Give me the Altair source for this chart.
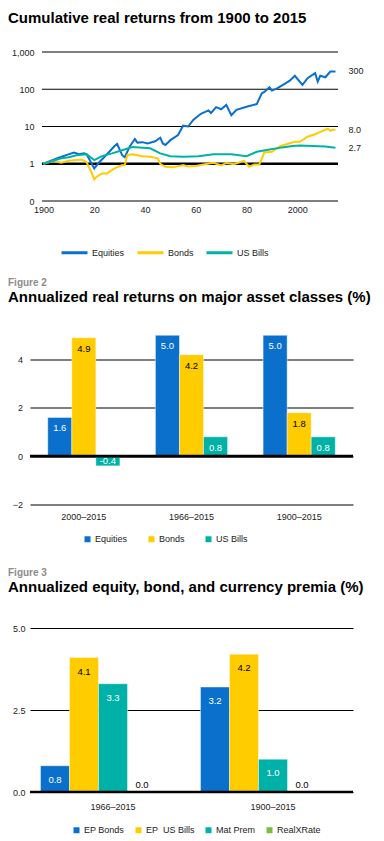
import altair as alt
import pandas as pd

FONT = "Liberation Sans"
BLUE = "#0B6FCC"
YELLOW = "#FFCC00"
TEAL = "#00B1A8"
GREEN = "#79BD42"

# ---------------- Figure 1: cumulative real returns (log scale) ----------------
eq_years = [1900, 1903, 1906, 1909, 1912, 1914, 1916, 1917, 1920, 1922, 1925, 1928, 1929,
            1931, 1932, 1934, 1936, 1937, 1939, 1941, 1944, 1946, 1947, 1948, 1950, 1953,
            1955, 1957, 1959, 1962, 1965, 1966, 1968, 1970, 1972, 1974, 1976, 1980, 1984,
            1986, 1987, 1989, 1990, 1992, 1995, 1997, 1999, 2002, 2004, 2007, 2008, 2009,
            2011, 2013, 2015]
eq_vals = [1.0, 1.2, 1.45, 1.7, 2.0, 1.8, 1.9, 1.8, 0.75, 1.1, 1.8, 3.0, 3.4,
           1.7, 1.5, 2.9, 4.6, 3.7, 3.8, 3.5, 4.0, 5.0, 3.5, 3.2, 4.3, 5.9,
           10.5, 10.0, 15.0, 22.0, 27.0, 23.0, 33.0, 29.0, 38.0, 20.0, 28.0, 34.0, 40.0,
           78.0, 85.0, 113.0, 92.0, 105.0, 140.0, 170.0, 230.0, 131.0, 198.0, 270.0, 160.0, 230.0,
           210.0, 300.0, 300.0]
bond_years = [1900, 1904, 1907, 1910, 1915, 1917, 1919, 1920, 1921, 1923, 1925, 1928, 1931,
              1932, 1933, 1935, 1939, 1942, 1945, 1946, 1948, 1951, 1955, 1957, 1960, 1963,
              1967, 1970, 1972, 1975, 1979, 1981, 1983, 1985, 1987, 1990, 1993, 1996, 1999,
              2001, 2004, 2007, 2009, 2012, 2013, 2014, 2015]
bond_vals = [1.0, 1.18, 1.06, 1.2, 1.3, 1.1, 0.57, 0.38, 0.45, 0.55, 0.55, 0.75, 0.92,
             0.9, 1.7, 1.8, 1.6, 1.55, 1.4, 1.0, 0.83, 0.8, 0.92, 0.85, 0.87, 0.95,
             1.06, 0.9, 1.05, 0.97, 1.2, 0.83, 0.95, 0.95, 2.0, 2.1, 2.9, 3.4, 3.9,
             3.9, 5.3, 6.2, 7.2, 8.7, 7.7, 8.3, 8.0]
bill_years = [1900, 1907, 1910, 1913, 1917, 1920, 1923, 1927, 1931, 1935, 1942, 1946, 1950,
              1955, 1961, 1967, 1974, 1980, 1984, 1989, 1994, 1998, 2001, 2006, 2011, 2015]
bill_vals = [1.0, 1.4, 1.5, 1.7, 1.8, 1.25, 1.6, 1.9, 2.3, 2.8, 2.6, 1.9, 1.6,
             1.55, 1.6, 1.8, 1.8, 1.6, 2.1, 2.4, 2.75, 3.0, 3.1, 3.0, 2.9, 2.7]
series1 = ["Equities", "Bonds", "US Bills"]
end_labels1 = ["300", "8.0", "2.7"]
x_ticks1 = [1900, 1910, 1920, 1930, 1940, 1950, 1960, 1970, 1980, 1990, 2000, 2010]
y_ticks1 = [0.1, 1, 10, 100, 1000]
x_domain1 = [1894.7, 2016]
grid_span1 = [1899.4, 2016]

# ---------------- Figure 2: annualized real returns ----------------
periods2 = ["2000–2015", "1966–2015", "1900–2015"]
series2 = ["Equities", "Bonds", "US Bills"]
equities2 = [1.6, 5.0, 5.0]
bonds2 = [4.9, 4.2, 1.8]
bills2 = [-0.4, 0.8, 0.8]

# ---------------- Figure 3: premia ----------------
periods3 = ["1966–2015", "1900–2015"]
series3 = ["EP Bonds", "EP\u00a0 US Bills", "Mat Prem", "RealXRate"]
slots3 = series3 + ["(none)"]
ep_bonds3 = [0.8, 3.2]
ep_bills3 = [4.1, 4.2]
mat_prem3 = [3.3, 1.0]
realx3 = [0.0, 0.0]

# ---------------- tables ----------------
rows1 = []
for name, ys, vs in [("Equities", eq_years, eq_vals), ("Bonds", bond_years, bond_vals),
                     ("US Bills", bill_years, bill_vals)]:
    for y, v in zip(ys, vs):
        rows1.append({"year": y, "value": v, "series": name})
df1 = pd.DataFrame(rows1)
df1_end = pd.DataFrame({
    "year": [eq_years[-1], bond_years[-1], bill_years[-1]],
    "value": [eq_vals[-1], bond_vals[-1], bill_vals[-1]],
    "label": end_labels1,
})
df1_grid = pd.DataFrame({"value": y_ticks1, "x0": grid_span1[0], "x1": grid_span1[1]})
df1_one = pd.DataFrame({"value": [1], "x0": [grid_span1[0]], "x1": [grid_span1[1]]})

rows2 = []
for name, vals in zip(series2, [equities2, bonds2, bills2]):
    for p, v in zip(periods2, vals):
        rows2.append({"period": p, "series": name, "value": v,
                      "pos": v - 0.45 if v > 0 else v / 2,
                      "label": f"{v:.1f}"})
df2 = pd.DataFrame(rows2)

rows3 = []
for name, vals in zip(series3, [ep_bonds3, ep_bills3, mat_prem3, realx3]):
    for p, v in zip(periods3, vals):
        rows3.append({"period": p, "series": name, "value": v,
                      "pos": v - 0.43 if v > 0.05 else 0.2,
                      "label": f"{v:.1f}"})
df3 = pd.DataFrame(rows3)
df_zero = pd.DataFrame({"value": [0]})

# ---------------- Figure 1 chart ----------------
x1 = alt.X("year:Q",
           scale=alt.Scale(domain=x_domain1, nice=False, zero=False),
           axis=alt.Axis(values=x_ticks1, title=None, grid=False, domain=False, ticks=False,
                         labelPadding=4, labelOverlap=False, labelFlush=False,
                         labelExpr="datum.value % 100 == 0 ? toString(datum.value) : toString(datum.value % 100)"))
y1 = alt.Y("value:Q",
           scale=alt.Scale(type="log", domain=[0.1, 1000], nice=False),
           axis=alt.Axis(values=y_ticks1, title=None, grid=False, domain=False, ticks=False,
                         labelPadding=8, offset=-12,
                         labelExpr="datum.value < 0.5 ? '0' : format(datum.value, ',')"))

grid1 = alt.Chart(df1_grid).mark_rule(color="black", strokeWidth=1.2).encode(
    x=alt.X("x0:Q"), x2="x1:Q", y=alt.Y("value:Q"))
one_rule = alt.Chart(df1_one).mark_rule(color="black", strokeWidth=2.6).encode(
    x=alt.X("x0:Q"), x2="x1:Q", y=alt.Y("value:Q"))
lines1 = alt.Chart(df1).mark_line(strokeWidth=2).encode(
    x=x1, y=y1,
    color=alt.Color("series:N", sort=series1,
                    scale=alt.Scale(domain=series1, range=[BLUE, YELLOW, TEAL]),
                    legend=alt.Legend(orient="none", legendX=30, legendY=186, direction="horizontal",
                                      title=None, symbolType="stroke", symbolSize=676,
                                      symbolStrokeWidth=3, labelOffset=3, columnPadding=6,
                                      padding=0, labelFontSize=9)),
    order=alt.Order("year:Q"),
)
end_text1 = alt.Chart(df1_end).mark_text(align="left", baseline="middle", dx=13, fontSize=9,
                                          color="#222").encode(
    x="year:Q", y="value:Q", text="label:N")

chart1 = alt.layer(grid1, one_rule, lines1, end_text1).properties(
    width=308, height=149,
    title=alt.Title("Cumulative real returns from 1900 to 2015", anchor="start", frame="group",
                    dx=-22, fontSize=15, fontWeight="bold", color="black", offset=22),
)

# ---------------- Figure 2 chart ----------------
x2 = alt.X("period:N", sort=periods2,
           scale=alt.Scale(paddingInner=0.33, paddingOuter=0.165),
           axis=alt.Axis(title=None, domain=False, ticks=False, labelPadding=8, labelAngle=0))
xo2 = alt.XOffset("series:N", sort=series2, scale=alt.Scale(domain=series2, paddingInner=0, paddingOuter=0))
y2 = alt.Y("value:Q", scale=alt.Scale(domain=[-2, 5.2], nice=False),
           axis=alt.Axis(values=[-2, 0, 2, 4], title=None, grid=True, gridColor="black",
                         gridWidth=1.2, domain=False, ticks=False, labelPadding=7.5))
bars2 = alt.Chart(df2).mark_bar(stroke="white", strokeWidth=0.6, strokeOpacity=0.7).encode(
    x=x2, xOffset=xo2, y=y2,
    color=alt.Color("series:N", sort=series2,
                    scale=alt.Scale(domain=series2, range=[BLUE, YELLOW, TEAL]),
                    legend=alt.Legend(orient="none", legendX=48, legendY=199, direction="horizontal",
                                      title=None, symbolType="square", symbolSize=36,
                                      symbolStrokeWidth=0, labelOffset=3, columnPadding=19,
                                      padding=5, labelFontSize=9)),
)
zero2 = alt.Chart(df_zero).mark_rule(color="black", strokeWidth=2.6).encode(y=alt.Y("value:Q"))
text2 = alt.Chart(df2).mark_text(baseline="middle", fontSize=9.5).encode(
    x=x2, xOffset=xo2, y=alt.Y("pos:Q"), text="label:N",
    color=alt.condition(alt.datum.series == "Bonds", alt.value("black"), alt.value("white")),
)
chart2 = alt.layer(bars2, zero2, text2).properties(
    width=323, height=174,
    title=alt.Title("Figure 2", subtitle="Annualized real returns on major asset classes (%)",
                    anchor="start", frame="group", dx=-22, fontSize=10, fontWeight="bold",
                    color="#8c8c8c", subtitleFontSize=15, subtitleFontWeight="bold",
                    subtitleColor="black", subtitleFont=FONT, subtitlePadding=2, offset=25.5),
)

# ---------------- Figure 3 chart ----------------
x3 = alt.X("period:N", sort=periods3,
           scale=alt.Scale(paddingInner=0.09375, paddingOuter=0.05625, align=0.583),
           axis=alt.Axis(title=None, domain=False, ticks=False, labelPadding=10.5, labelAngle=0))
xo3 = alt.XOffset("series:N", scale=alt.Scale(domain=slots3, paddingInner=0, paddingOuter=0))
y3 = alt.Y("value:Q", scale=alt.Scale(domain=[0, 5], nice=False),
           axis=alt.Axis(values=[0, 2.5, 5], format=".1f", title=None, grid=True, gridColor="black",
                         gridWidth=1.2, domain=False, ticks=False, labelPadding=5))
bars3 = alt.Chart(df3).mark_bar(stroke="white", strokeWidth=0.6, strokeOpacity=0.7).encode(
    x=x3, xOffset=xo3, y=y3,
    color=alt.Color("series:N", sort=series3,
                    scale=alt.Scale(domain=series3, range=[BLUE, YELLOW, TEAL, GREEN]),
                    legend=alt.Legend(orient="none", legendX=42, legendY=197.5, direction="horizontal",
                                      title=None, symbolType="square", symbolSize=36,
                                      symbolStrokeWidth=0, labelOffset=3, columnPadding=9,
                                      padding=0, labelFontSize=9)),
)
zero3 = alt.Chart(df_zero).mark_rule(color="black", strokeWidth=2.6).encode(y=alt.Y("value:Q"))
text3 = alt.Chart(df3).mark_text(baseline="middle", fontSize=9.5).encode(
    x=x3, xOffset=xo3, y=alt.Y("pos:Q"), text="label:N",
    color=alt.condition((alt.datum.series == "EP Bonds") | (alt.datum.series == "Mat Prem"),
                        alt.value("white"), alt.value("black")),
)
chart3 = alt.layer(bars3, zero3, text3).properties(
    width=323, height=164,
    title=alt.Title("Figure 3", subtitle="Annualized equity, bond, and currency premia (%)",
                    anchor="start", frame="group", dx=-22, fontSize=10, fontWeight="bold",
                    color="#8c8c8c", subtitleFontSize=15, subtitleFontWeight="bold",
                    subtitleColor="black", subtitleFont=FONT, subtitlePadding=2, offset=29),
)

chart = alt.vconcat(chart1, chart2, chart3, spacing=18.5).resolve_scale(
    color="independent", x="independent", y="independent", xOffset="independent"
).properties(padding={"top": 3, "left": 0, "right": 0, "bottom": 0}).configure(
    font=FONT).configure_view(stroke=None).configure_axis(
    labelFont=FONT, labelFontSize=9, labelColor="#222"
).configure_legend(labelFont=FONT, labelColor="#222").configure_title(font=FONT)

chart.save("out.html", embed_options={"renderer": "svg", "actions": False})
